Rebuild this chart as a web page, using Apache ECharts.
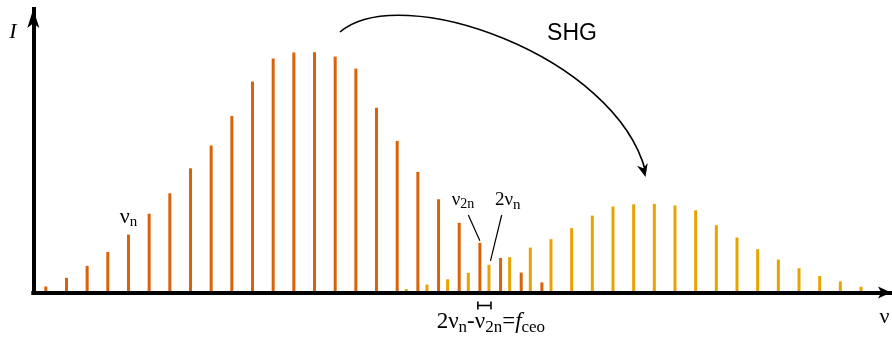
<!DOCTYPE html>
<html>
<head>
<meta charset="utf-8">
<script src="https://cdn.jsdelivr.net/npm/echarts@6/dist/echarts.min.js"></script>
<style>
  html, body { margin: 0; padding: 0; background: #fff; }
  #chart { width: 892px; height: 339px; }
</style>
</head>
<body>
<div id="chart"></div>
<script>
// fundamental comb lines (mode index) and their intensity (peak = 100)
var combFreq = [0, 1, 2, 3, 4, 5, 6, 7, 8, 9, 10, 11, 12, 13, 14, 15, 16, 17, 18, 19, 20, 21, 22, 23, 24];
var combIntensity = [2.5, 6.1, 11.1, 16.9, 24.1, 32.8, 41.3, 51.7, 61.2, 73.5, 87.8, 97.4, 99.9, 100, 98.2, 93.2, 76.9, 63.1, 50.2, 38.8, 29.0, 20.7, 14.4, 8.3, 4.2];

// second harmonic comb, shifted by f_ceo from the fundamental lines
var shgFreq = [17.44, 18.44, 19.44, 20.44, 21.44, 22.44, 23.44, 24.44, 25.44, 26.44, 27.44, 28.44, 29.44, 30.44, 31.44, 32.44, 33.44, 34.44, 35.44, 36.44, 37.44, 38.44, 39.44];
var shgIntensity = [1.4, 3.3, 5.5, 8.2, 11.5, 14.7, 18.7, 22.2, 26.8, 32.0, 35.8, 36.7, 36.9, 36.2, 34.2, 28.0, 22.9, 18.0, 13.7, 10.1, 6.9, 4.6, 2.4];

var ORANGE = '#d9620c';
var YELLOW = '#e8a300';
var SERIF = '"Liberation Serif", "DejaVu Serif", serif';

var chart = echarts.init(document.getElementById('chart'));

function pairs(xs, ys) {
  return xs.map(function (x, i) { return [x, ys[i]]; });
}

var axisLine = function (size) {
  return {
    show: true,
    onZero: false,
    symbol: ['none', 'arrow'],
    symbolSize: size,
    lineStyle: { color: '#000', width: 4, cap: 'square' }
  };
};

chart.setOption({
  animation: false,
  backgroundColor: '#fff',
  grid: { left: 33.3, right: 1, top: 9, bottom: 46.5, outerBoundsMode: 'none' },
  xAxis: {
    type: 'value', min: -0.605, max: 40.89, z: 5,
    axisLine: axisLine([9, 13]),
    axisTick: { show: false }, axisLabel: { show: false }, splitLine: { show: false }
  },
  yAxis: {
    type: 'value', min: 0, max: 118.0, z: 5,
    axisLine: axisLine([9, 19]),
    axisTick: { show: false }, axisLabel: { show: false }, splitLine: { show: false }
  },
  series: [
    { type: 'bar', name: 'comb', data: pairs(combFreq, combIntensity), barWidth: 3, barGap: '-100%',
      itemStyle: { color: ORANGE }, silent: true },
    { type: 'bar', name: 'shg', data: pairs(shgFreq, shgIntensity), barWidth: 3, barGap: '-100%',
      itemStyle: { color: YELLOW }, silent: true }
  ]
});

// annotation helpers
function richText(x, y, text, fs, subFs, lineH, align) {
  return {
    type: 'text', x: x, y: y, z: 10,
    style: {
      text: text, align: align || 'left', verticalAlign: 'middle', fill: '#000',
      rich: {
        m: { fontFamily: SERIF, fontSize: fs, lineHeight: lineH },
        i: { fontFamily: SERIF, fontSize: fs, fontStyle: 'italic', lineHeight: lineH },
        s: { fontFamily: SERIF, fontSize: subFs, lineHeight: subFs, height: subFs, verticalAlign: 'bottom' }
      }
    }
  };
}

function arrowHead(tip, from, len, halfW) {
  var dx = tip[0] - from[0], dy = tip[1] - from[1];
  var d = Math.sqrt(dx * dx + dy * dy);
  dx /= d; dy /= d;
  var bx = tip[0] - dx * len, by = tip[1] - dy * len;
  var nx = -dy, ny = dx;
  return {
    type: 'polygon', z: 10,
    shape: { points: [tip, [bx + nx * halfW, by + ny * halfW], [tip[0] - dx * len * 0.7, tip[1] - dy * len * 0.7], [bx - nx * halfW, by - ny * halfW]] },
    style: { fill: '#000' }
  };
}

var px = function (s, x, y) { return chart.convertToPixel({ seriesIndex: s }, [x, y]); };
var v2n = px(0, combFreq[21], combIntensity[21]);
var twoVn = px(1, shgFreq[4], shgIntensity[4]);
var vn = px(0, combFreq[4], combIntensity[4]);

var arcEnd = [645.5, 177];
var arcCp2 = [615, 55];

chart.setOption({
  graphic: [
    { type: 'text', x: 13, y: 32.6, style: { text: 'I', font: 'italic 22px ' + SERIF, fill: '#000', align: 'center', verticalAlign: 'middle' } },
    { type: 'text', x: 884.5, y: 317.6, style: { text: 'ν', font: '22px ' + SERIF, fill: '#000', align: 'center', verticalAlign: 'middle' } },
    { type: 'text', x: 572, y: 34, style: { text: 'SHG', font: '23px "Liberation Sans", Arial, sans-serif', fill: '#000', align: 'center', verticalAlign: 'middle' } },
    { type: 'bezierCurve', z: 10,
      shape: { x1: 340, y1: 32, cpx1: 400, cpy1: -20, cpx2: arcCp2[0], cpy2: arcCp2[1], x2: arcEnd[0], y2: arcEnd[1] - 6 },
      style: { stroke: '#000', lineWidth: 1.6, fill: null } },
    arrowHead(arcEnd, arcCp2, 13, 5.5),

    richText(vn[0], vn[1] - 17.5, '{m|ν}{s|n}', 22, 15, 25, 'center'),
    richText(451.7, 199.6, '{m|ν}{s|2n}', 19, 14, 24),
    richText(495, 199.6, '{m|2ν}{s|n}', 19, 15, 25),
    { type: 'line', z: 10, shape: { x1: 468.3, y1: 215, x2: v2n[0], y2: v2n[1] - 2 }, style: { stroke: '#000', lineWidth: 1.2 } },
    { type: 'line', z: 10, shape: { x1: 501.7, y1: 215, x2: twoVn[0] + 1.5, y2: twoVn[1] - 4 }, style: { stroke: '#000', lineWidth: 1.2 } },

    // f_ceo spacing bracket
    { type: 'line', z: 10, shape: { x1: v2n[0] - 2, y1: 305.5, x2: twoVn[0] + 2, y2: 305.5 }, style: { stroke: '#000', lineWidth: 1.6 } },
    { type: 'line', z: 10, shape: { x1: v2n[0] - 2, y1: 301.5, x2: v2n[0] - 2, y2: 309.5 }, style: { stroke: '#000', lineWidth: 1.6 } },
    { type: 'line', z: 10, shape: { x1: twoVn[0] + 2, y1: 301.5, x2: twoVn[0] + 2, y2: 309.5 }, style: { stroke: '#000', lineWidth: 1.6 } },
    richText(436.7, 322, '{m|2ν}{s|n}{m|-ν}{s|2n}{m|=}{i|f}{s|ceo}', 23, 17, 29)
  ]
});
</script>
</body>
</html>
